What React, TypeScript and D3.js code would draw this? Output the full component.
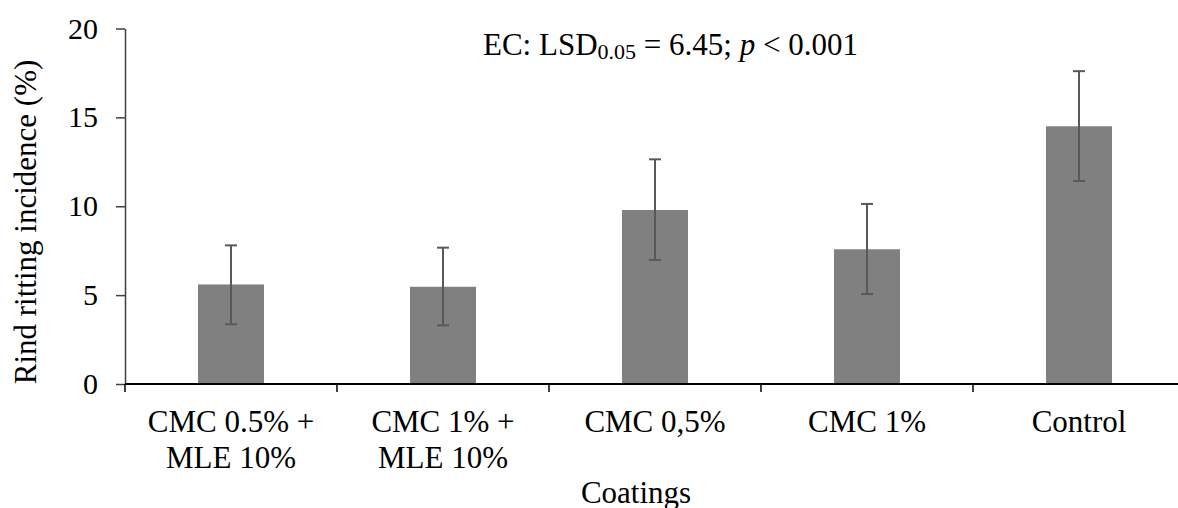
import { useRef, useEffect } from 'react';
import * as d3 from 'd3';

const categories = [
  ['CMC 0.5% +', 'MLE 10%'],
  ['CMC 1% +', 'MLE 10%'],
  ['CMC 0,5%'],
  ['CMC 1%'],
  ['Control'],
];
const means = [5.6, 5.47, 9.79, 7.58, 14.5];
const errLow = [3.36, 3.3, 6.98, 5.06, 11.42];
const errHigh = [7.8, 7.67, 12.64, 10.13, 17.6];
const yTicks = [0, 5, 10, 15, 20];

const FONT = '"Liberation Serif", "Times New Roman", serif';

const App = () => {
  const ref = useRef<SVGSVGElement>(null);

  useEffect(() => {
    const svg = d3.select(ref.current);
    svg.selectAll('*').remove();

    const keys = categories.map((c, i) => String(i));
    const x = d3.scaleBand().domain(keys).range([125, 1185]).padding(0);
    const y = d3.scaleLinear().domain([0, 20]).range([384, 28.5]);
    const barW = 66;

    // bars
    svg.selectAll('.bar')
      .data(means)
      .enter().append('rect')
      .attr('x', (d, i) => x(keys[i]) + x.bandwidth() / 2 - barW / 2)
      .attr('y', d => y(d))
      .attr('width', barW)
      .attr('height', d => y(0) - y(d))
      .attr('fill', '#808080');

    // error bars
    const eb = svg.append('g').attr('stroke', '#595959').attr('stroke-width', 2);
    means.forEach((m, i) => {
      const cx = x(keys[i]) + x.bandwidth() / 2;
      eb.append('line').attr('x1', cx).attr('x2', cx).attr('y1', y(errLow[i])).attr('y2', y(errHigh[i]));
      eb.append('line').attr('x1', cx - 6).attr('x2', cx + 6).attr('y1', y(errLow[i])).attr('y2', y(errLow[i]));
      eb.append('line').attr('x1', cx - 6).attr('x2', cx + 6).attr('y1', y(errHigh[i])).attr('y2', y(errHigh[i]));
    });

    // y axis
    const yAxis = svg.append('g').attr('transform', 'translate(125,0)')
      .call(d3.axisLeft(y).tickValues(yTicks).tickSize(9).tickPadding(18).tickSizeOuter(0));
    yAxis.select('.domain').attr('stroke', '#404040').attr('stroke-width', 1.5);
    yAxis.selectAll('.tick line').attr('stroke', '#404040').attr('stroke-width', 1.5);
    yAxis.selectAll('.tick text')
      .attr('font-family', FONT).attr('font-size', 30).attr('fill', '#000');

    // x axis
    svg.append('line').attr('x1', 125).attr('x2', 1185).attr('y1', y(0)).attr('y2', y(0))
      .attr('stroke', '#000').attr('stroke-width', 2);
    const tickXs = keys.map(k => x(k)).concat([x.range()[1]]);
    svg.selectAll('.xtick')
      .data(tickXs)
      .enter().append('line')
      .attr('x1', d => d).attr('x2', d => d)
      .attr('y1', y(0)).attr('y2', y(0) + 8)
      .attr('stroke', '#000').attr('stroke-width', 1.5);

    categories.forEach((lines, i) => {
      const t = svg.append('text')
        .attr('x', x(keys[i]) + x.bandwidth() / 2)
        .attr('y', 432)
        .attr('text-anchor', 'middle')
        .attr('font-family', FONT).attr('font-size', 31).attr('fill', '#000');
      lines.forEach((l, j) => {
        t.append('tspan').attr('x', x(keys[i]) + x.bandwidth() / 2).attr('dy', j === 0 ? 0 : 36).text(l);
      });
    });

    // axis titles
    svg.append('text')
      .attr('x', 636).attr('y', 503)
      .attr('text-anchor', 'middle')
      .attr('font-family', FONT).attr('font-size', 31).attr('fill', '#000')
      .text('Coatings');

    svg.append('text')
      .attr('transform', 'translate(36,222) rotate(-90)')
      .attr('text-anchor', 'middle')
      .attr('font-family', FONT).attr('font-size', 31).attr('fill', '#000')
      .text('Rind ritting incidence (%)');

    // annotation
    const ann = svg.append('text')
      .attr('x', 483).attr('y', 55)
      .attr('font-family', FONT).attr('font-size', 31).attr('fill', '#000');
    ann.append('tspan').text('EC: LSD');
    ann.append('tspan').attr('font-size', 22).attr('dy', 4).text('0.05');
    ann.append('tspan').attr('dy', -4).text(' = 6.45; ');
    ann.append('tspan').attr('font-style', 'italic').text('p');
    ann.append('tspan').text(' < 0.001');
  }, []);

  return (
    <svg ref={ref} width={1178} height={508}
      style={{ position: 'absolute', left: 0, top: 0, background: '#fff' }} />
  );
};

export default App;
